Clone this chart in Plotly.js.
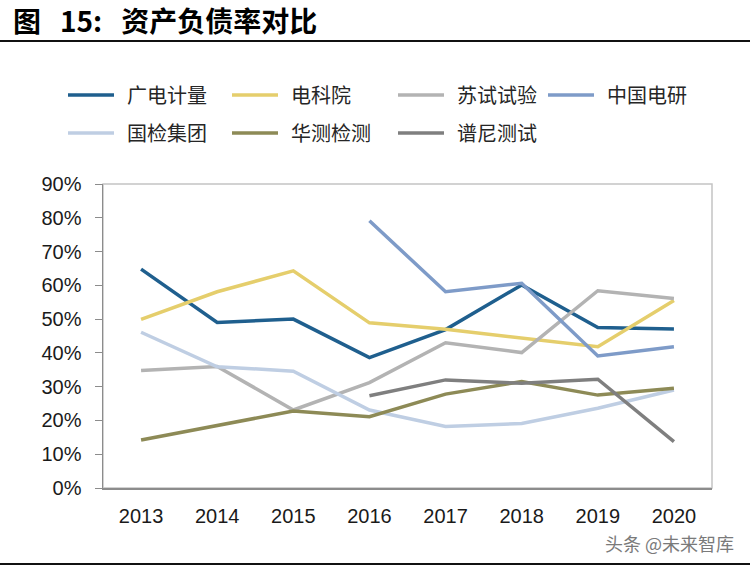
<!DOCTYPE html>
<html>
<head>
<meta charset="utf-8">
<script src="https://cdn.plot.ly/plotly-3.0.1.min.js"></script>
<style>
  html, body { margin: 0; padding: 0; background: #fff; }
  #chart { width: 750px; height: 568px; }
</style>
</head>
<body>
<div id="chart"></div>
<script>
// ---- data ----
const years = ['2013', '2014', '2015', '2016', '2017', '2018', '2019', '2020'];
const seriesNames = ['广电计量', '电科院', '苏试试验', '中国电研', '国检集团', '华测检测', '谱尼测试'];
const guangdian = [0.648, 0.490, 0.500, 0.386, 0.469, 0.601, 0.475, 0.471];
const dianke    = [0.499, 0.581, 0.643, 0.489, 0.470, 0.443, 0.418, 0.555];
const sushi     = [0.348, 0.360, 0.231, 0.312, 0.430, 0.401, 0.584, 0.561];
const zhongguo  = [null, null, null, 0.791, 0.581, 0.606, 0.391, 0.418];
const guojian   = [0.461, 0.359, 0.346, 0.231, 0.182, 0.191, 0.236, 0.290];
const huace     = [0.142, 0.186, 0.228, 0.211, 0.278, 0.315, 0.275, 0.295];
const puni      = [null, null, null, 0.273, 0.320, 0.310, 0.322, 0.137];
const allValues = [guangdian, dianke, sushi, zhongguo, guojian, huace, puni];
const yTickVals = [0, 0.1, 0.2, 0.3, 0.4, 0.5, 0.6, 0.7, 0.8, 0.9];
const yTickText = ['0%', '10%', '20%', '30%', '40%', '50%', '60%', '70%', '80%', '90%'];
const titleText = '图&nbsp;&nbsp;&nbsp;15:&nbsp;&nbsp;&nbsp;资产负债率对比';
const sourceText = '头条 @未来智库';

// ---- styles ----
const colors = ['#1f5f8e', '#e5ce6c', '#b3b3b3', '#7e9bc8', '#bfcee3', '#8d8a56', '#7f7f7f'];
const lineW = 3.5;

const traces = allValues.map((vals, i) => ({
  type: 'scatter',
  mode: 'lines',
  x: years,
  y: vals,
  name: seriesNames[i],
  line: { color: colors[i], width: lineW },
  connectgaps: false,
  showlegend: false,
  hoverinfo: 'skip'
}));

// custom legend positions (pixels)
const W = 750, H = 568;
const PL = 103, PW = 609, PB = 488, PH = 304;
const px = v => (v - PL) / PW;
const py = v => (PB - v) / PH;
const legendPos = [
  [68, 95], [232, 95], [398, 95], [548, 95],
  [68, 133], [232, 133], [398, 133]
];
const shapes = [];
const annotations = [];
seriesNames.forEach((nm, i) => {
  const [lx, ly] = legendPos[i];
  shapes.push({
    type: 'line', xref: 'paper', yref: 'paper',
    x0: px(lx), x1: px(lx + 46),
    y0: py(ly), y1: py(ly),
    line: { color: colors[i], width: lineW }
  });
  annotations.push({
    xref: 'paper', yref: 'paper',
    x: px(lx + 57), y: py(ly),
    xanchor: 'left', yanchor: 'middle', showarrow: false,
    text: nm,
    font: { family: 'Noto Sans CJK SC, sans-serif', size: 20, color: '#262626' }
  });
});

// frame (top/right lighter border)
shapes.push({
  type: 'rect', xref: 'paper', yref: 'paper', x0: 0, x1: 1, y0: 0, y1: 1,
  line: { color: '#c4c4c4', width: 1.5 }, layer: 'below'
});
// title underline
shapes.push({
  type: 'line', xref: 'paper', yref: 'paper',
  x0: px(0), x1: px(750), y0: py(41), y1: py(41),
  line: { color: '#111', width: 2 }
});
// bottom line
shapes.push({
  type: 'line', xref: 'paper', yref: 'paper',
  x0: px(0), x1: px(750), y0: py(564), y1: py(564),
  line: { color: '#111', width: 2 }
});

annotations.push({
  xref: 'paper', yref: 'paper',
  x: px(11), y: py(20),
  xanchor: 'left', yanchor: 'middle', showarrow: false,
  text: '<b>' + titleText + '</b>',
  font: { family: 'Noto Sans CJK SC, sans-serif', size: 28, color: '#000' }
});
annotations.push({
  xref: 'paper', yref: 'paper',
  x: px(736), y: py(543),
  xanchor: 'right', yanchor: 'middle', showarrow: false,
  text: sourceText,
  font: { family: 'Noto Sans CJK SC, sans-serif', size: 18, color: '#7a7a7a' }
});

const layout = {
  width: W, height: H,
  margin: { l: 103, r: 38, t: 184, b: 80 },
  paper_bgcolor: '#fff',
  plot_bgcolor: '#fff',
  showlegend: false,
  xaxis: {
    type: 'category',
    categoryarray: years,
    range: [-0.5, 7.5],
    showgrid: false,
    zeroline: false,
    showline: true,
    linecolor: '#8c8c8c',
    linewidth: 1.5,
    ticks: '',
    tickfont: { family: 'Liberation Sans, Arial, sans-serif', size: 20, color: '#1a1a1a' },
    ticklabelstandoff: 9,
    fixedrange: true
  },
  yaxis: {
    range: [0, 0.9],
    tickvals: yTickVals,
    ticktext: yTickText,
    showgrid: false,
    zeroline: false,
    showline: true,
    linecolor: '#8c8c8c',
    linewidth: 1.5,
    ticks: 'outside',
    ticklen: 7,
    tickwidth: 1,
    tickcolor: '#8c8c8c',
    tickfont: { family: 'Liberation Sans, Arial, sans-serif', size: 20, color: '#1a1a1a' },
    ticklabelstandoff: 9,
    fixedrange: true
  },
  shapes: shapes,
  annotations: annotations
};

Plotly.newPlot('chart', traces, layout, { staticPlot: true, displayModeBar: false });
</script>
</body>
</html>
